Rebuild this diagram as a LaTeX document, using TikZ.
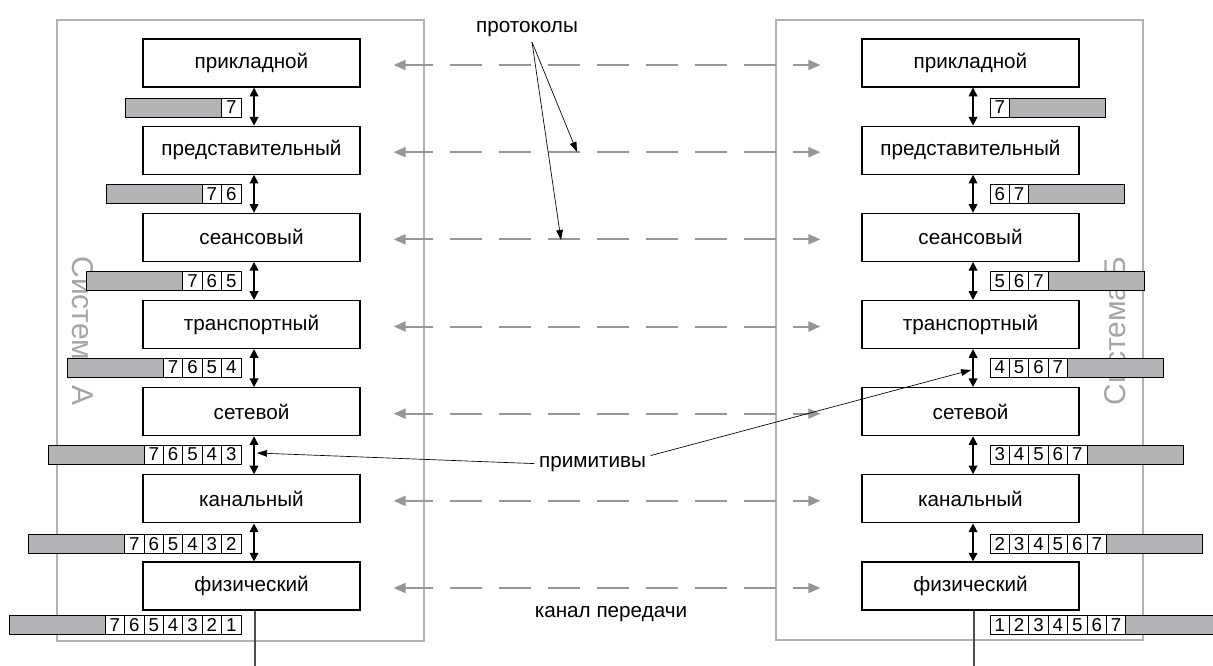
\documentclass[tikz,border=0pt]{standalone}
\usepackage{fontspec}
\setmainfont{Liberation Sans}
\usetikzlibrary{arrows.meta}

\definecolor{framegray}{RGB}{178,178,178}
\definecolor{protogray}{RGB}{150,150,150}
\definecolor{bargray}{RGB}{180,180,183}
\definecolor{sysgray}{RGB}{165,165,165}

\tikzset{
  layer/.style={draw, line width=0.9pt, fill=white, minimum width=162.75pt, minimum height=36pt, font=\fontsize{15.5}{18}\selectfont},
  cell/.style={draw, line width=0.7pt, fill=white, minimum width=14.55pt, minimum height=14.25pt, inner sep=0pt, font=\fontsize{14}{15}\selectfont},
  packet/.style={draw, line width=0.7pt, fill=bargray},
  proto/.style={protogray, line width=1.5pt, dash pattern=on 24pt off 12.75pt, dash phase=3pt,
    {Triangle[length=9pt,width=7.5pt]}-{Triangle[length=9pt,width=7.5pt]}},
  prim/.style={{Triangle[length=6.5pt,width=6.5pt]}-{Triangle[length=6.5pt,width=6.5pt]}, line width=1.1pt},
  callout/.style={-{Triangle[length=7.5pt,width=5pt]}, line width=0.5pt},
  sysname/.style={sysgray, font=\fontsize{22.5}{26}\selectfont, inner sep=0pt},
  lbl/.style={font=\fontsize{15.5}{18}\selectfont}
}

\begin{document}
\begin{tikzpicture}[x=0.75pt, y=-0.75pt]
    \useasboundingbox (0,0) rectangle (1213,666);
    \clip (0,0) rectangle (1213,666);

    % Systems A and B
    \draw[framegray, line width=1.1pt] (57,20) rectangle (424,641);
    \draw[framegray, line width=1.1pt] (776,20) rectangle (1143,640);
    \node[sysname, rotate=-90] (sysA) at (82.5,331) {Система А};
    \node[sysname, rotate=90] (sysB) at (1115,331) {Система Б};

    % Layers and protocols between them
    \foreach \name [count=\i] in {прикладной, представительный, сеансовый, транспортный, сетевой, канальный, физический} {
        \node[layer] (a\i) at (251.5, {63+87.17*(\i-1)}) {\name};
        \node[layer] (b\i) at (970.5, {63+87.17*(\i-1)}) {\name};
        \draw[proto] ([xshift=24.75pt, yshift=-1.5pt]a\i.east) -- ([xshift=-30.75pt, yshift=-1.5pt]b\i.west);
    }

    % Primitives between neighbouring layers
    \foreach \i/\j in {1/2, 2/3, 3/4, 4/5, 5/6, 6/7} {
        \draw[prim] ([xshift=1.9pt]a\i.south) -- ([xshift=1.9pt]a\j.north);
        \draw[prim] ([xshift=1.9pt]b\i.south) -- ([xshift=1.9pt]b\j.north);
    }

    % Packets with headers
    \foreach \y [count=\i] in {107.5, 194, 281, 367.5, 454.5, 544, 625} {
        \draw[packet] ({241-\i*19.4-96},{\y-9.5}) rectangle ({241-\i*19.4},{\y+9.5});
        \draw[packet] ({990+\i*19.4},{\y-9.5}) rectangle ({990+\i*19.4+96},{\y+9.5});
        \foreach \j in {1,...,\i} {
            \pgfmathtruncatemacro\nl{8-\j}
            \pgfmathtruncatemacro\nr{7-\i+\j}
            \node[cell] (l\i-\j) at ({241-(\i-\j+0.5)*19.4},\y) {\nl};
            \node[cell] (r\i-\j) at ({990+(\j-0.5)*19.4},\y) {\nr};
        }
    }

    % Labels
    \node[lbl, anchor=base] (prot) at (527,33) {протоколы};
    \coordinate (pr2) at (577,152);
    \coordinate (pr3) at (561,240);
    \draw[callout] ([xshift=3.75pt]prot.south) -- (pr2);
    \draw[callout] ([xshift=3.75pt]prot.south) -- (pr3);

    \node[lbl, anchor=base] (primi) at (592.5,467) {примитивы};
    \coordinate (pmA) at (257,453);
    \coordinate (pmB) at (971,370);
    \draw[callout] (primi.west) -- (pmA);
    \draw[callout] ([yshift=6pt]primi.east) -- (pmB);

    % Transmission channel
    \node[lbl] (chan) at (611,614) {канал передачи};
    \coordinate (gndA) at (255,670);
    \coordinate (gndB) at (974,670);
    \draw[black!70, line width=0.9pt] (a7.south -| gndA) -- (gndA);
    \draw[black!70, line width=0.9pt] (b7.south -| gndB) -- (gndB);
\end{tikzpicture}
\end{document}
